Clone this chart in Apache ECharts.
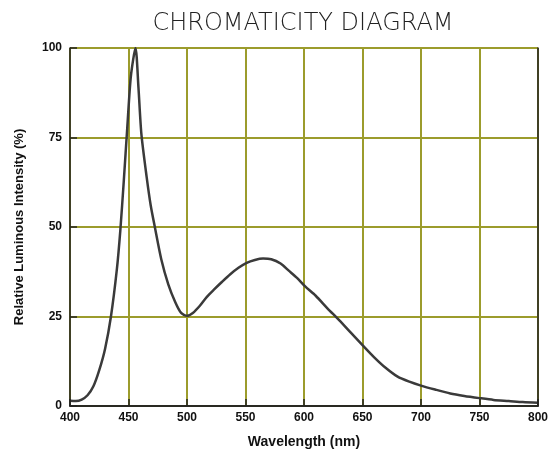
<!DOCTYPE html>
<html>
<head>
<meta charset="utf-8">
<script src="https://cdn.jsdelivr.net/npm/echarts@6/dist/echarts.min.js"></script>
<style>
  html, body { margin: 0; padding: 0; background: #fff; }
  #chart { width: 558px; height: 459px; }
</style>
</head>
<body>
<div id="chart"></div>
<script>
// wavelength (nm) and relative intensity (%)
const wavelengths = [400, 405, 410, 415, 420, 425, 430, 435, 440, 443, 446, 449, 452, 456, 458.5, 461, 465.5, 469, 472.5, 478, 484, 490, 495, 500,
  505, 511, 517, 523, 530, 537, 544, 551, 558, 565, 572, 580, 587, 594, 601, 610, 620, 630, 640, 650, 660, 670, 680, 690, 700,
  712, 725, 737, 750, 762, 775, 787, 800];
const intensity = [1.5, 1.4, 1.8, 3, 5.5, 10, 16, 25, 38, 49, 63, 78, 92, 100, 89, 76, 64, 56, 50, 41, 34, 29, 26, 25.2,
  26, 28, 30.5, 32.5, 34.7, 36.8, 38.6, 40, 40.8, 41.2, 41, 39.8, 37.8, 35.8, 33.4, 30.8, 27.3, 24, 20.5, 17, 13.6, 10.6, 8.2, 6.8, 5.7,
  4.6, 3.5, 2.8, 2.2, 1.7, 1.4, 1.1, 0.9];
const yTicks = [0, 25, 50, 75, 100];

const gridColor = "#9c9c2c";
const frameColor = "#222";
const labelFont = { color: "#111", fontFamily: "Liberation Sans", fontWeight: "bold", fontSize: 12 };

const myChart = echarts.init(document.getElementById("chart"));

const option = {
  animation: false,
  title: {
    text: "CHROMATICITY DIAGRAM",
    left: 298,
    textAlign: "center",
    top: 7,
    textStyle: { fontFamily: "DejaVu Sans", fontWeight: 200, fontSize: 24, color: "#222" },
  },
  grid: { left: 70, right: 20, top: 48, bottom: 53 },
  xAxis: [
    {
      type: "value", min: 400, max: 800, interval: 50, position: "bottom",
      axisLine: { show: false }, axisTick: { show: false },
      splitLine: { show: true, lineStyle: { color: gridColor, width: 2 } },
      axisLabel: { ...labelFont, margin: 6 },
      name: "Wavelength (nm)", nameLocation: "middle", nameGap: 29,
      nameTextStyle: { ...labelFont, fontSize: 14 },
    },
    {
      type: "value", min: 400, max: 800, interval: 50, position: "bottom", z: 5,
      axisLine: { show: true, lineStyle: { color: frameColor, width: 1.5 } },
      axisTick: { show: true, inside: true, length: 7, lineStyle: { color: frameColor, width: 1.5 } },
      axisLabel: { show: false }, splitLine: { show: false },
    },
    {
      type: "value", min: 400, max: 800, position: "top", z: 5,
      axisLine: { show: true, lineStyle: { color: frameColor, width: 1.5 } },
      axisTick: { show: false }, axisLabel: { show: false }, splitLine: { show: false },
    },
  ],
  yAxis: [
    {
      type: "value", min: yTicks[0], max: yTicks[yTicks.length - 1], interval: 25, position: "left",
      axisLine: { show: false }, axisTick: { show: false },
      splitLine: { show: true, lineStyle: { color: gridColor, width: 2 } },
      axisLabel: { ...labelFont, margin: 8 },
      name: "Relative Luminous Intensity (%)", nameLocation: "middle", nameGap: 44,
      nameTextStyle: { ...labelFont, fontSize: 13 },
    },
    {
      type: "value", min: 0, max: 100, interval: 25, position: "left", z: 5,
      axisLine: { show: true, lineStyle: { color: frameColor, width: 1.5 } },
      axisTick: { show: true, inside: true, length: 7, lineStyle: { color: frameColor, width: 1.5 } },
      axisLabel: { show: false }, splitLine: { show: false },
    },
    {
      type: "value", min: 0, max: 100, position: "right", z: 5,
      axisLine: { show: true, lineStyle: { color: frameColor, width: 1.5 } },
      axisTick: { show: false }, axisLabel: { show: false }, splitLine: { show: false },
    },
  ],
  series: [
    {
      type: "line",
      xAxisIndex: 0,
      yAxisIndex: 0,
      smooth: 0.25,
      showSymbol: false,
      data: wavelengths.map((w, i) => [w, intensity[i]]),
      lineStyle: { color: "#3a3a3a", width: 2.5 },
      z: 3,
    },
  ],
};

myChart.setOption(option);
</script>
</body>
</html>
